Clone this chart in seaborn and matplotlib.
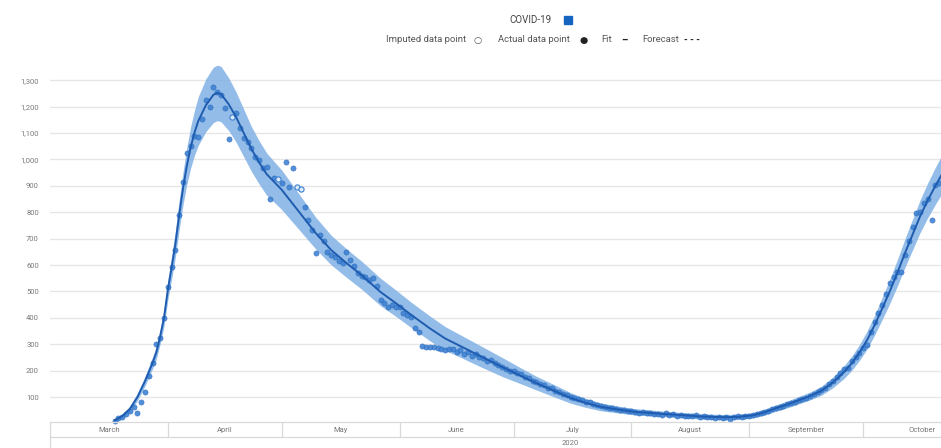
import numpy as np
import pandas as pd
import matplotlib
matplotlib.use("Agg")
import matplotlib.pyplot as plt
import seaborn as sns

sns.set_style("whitegrid")
plt.rcParams["font.family"] = ["Roboto", "DejaVu Sans"]

# fitted curve with its uncertainty band (half width)
fit_dates = [
    "2020-03-18", "2020-03-20", "2020-03-22", "2020-03-24", "2020-03-26", "2020-03-28",
    "2020-03-29", "2020-03-30", "2020-03-31", "2020-04-01", "2020-04-02", "2020-04-03",
    "2020-04-04", "2020-04-05", "2020-04-06", "2020-04-07", "2020-04-08", "2020-04-09",
    "2020-04-11", "2020-04-13", "2020-04-14", "2020-04-15", "2020-04-17", "2020-04-19",
    "2020-04-21", "2020-04-23", "2020-04-25", "2020-04-27", "2020-04-29", "2020-05-01",
    "2020-05-04", "2020-05-07", "2020-05-10", "2020-05-14", "2020-05-18", "2020-05-22",
    "2020-05-27", "2020-05-31", "2020-06-04", "2020-06-09", "2020-06-13", "2020-06-18",
    "2020-06-22", "2020-06-28", "2020-07-03", "2020-07-07", "2020-07-12", "2020-07-16",
    "2020-07-20", "2020-07-24", "2020-07-29", "2020-08-02", "2020-08-07", "2020-08-11",
    "2020-08-16", "2020-08-20", "2020-08-25", "2020-08-29", "2020-09-02", "2020-09-05",
    "2020-09-08", "2020-09-11", "2020-09-14", "2020-09-17", "2020-09-20", "2020-09-23",
    "2020-09-26", "2020-09-28", "2020-09-30", "2020-10-02", "2020-10-04", "2020-10-06",
    "2020-10-08", "2020-10-10", "2020-10-12", "2020-10-14", "2020-10-16", "2020-10-18",
    "2020-10-20", "2020-10-22",
]
fit_values = [
    12, 28, 55, 100, 160, 230,
    270, 330, 400, 505, 590, 680,
    790, 890, 975, 1045, 1100, 1145,
    1205, 1245, 1252, 1248, 1210, 1160,
    1100, 1040, 990, 945, 915, 885,
    830, 775, 720, 657, 608, 562,
    498, 456, 412, 360, 322, 286,
    257, 214, 180, 153, 122, 97,
    78, 63, 52, 44, 39, 35,
    30, 26, 24, 25, 31, 42,
    58, 72, 88, 104, 124, 155,
    195, 228, 268, 315, 372, 435,
    500, 570, 645, 715, 785, 845,
    900, 950,
]
band_half = [
    6, 8, 10, 14, 18, 22,
    25, 28, 32, 38, 44, 50,
    56, 62, 70, 78, 85, 92,
    100, 105, 105, 105, 100, 95,
    90, 85, 82, 80, 77, 75,
    70, 65, 60, 56, 54, 53,
    52, 50, 48, 47, 45, 42,
    40, 36, 30, 26, 23, 20,
    17, 15, 13, 12, 11, 10,
    10, 10, 10, 10, 10, 11,
    12, 13, 14, 15, 17, 20,
    24, 27, 30, 34, 38, 42,
    46, 50, 54, 58, 62, 66,
    70, 74,
]

# daily actual data points (NaN where the day is imputed)
actual_mar = [10, 22, 25, 35, 48, 62, 40, 80, 118, 180, 230, 300, 325, 400]  # from Mar 18
actual_apr = [517, 593, 657, 790, 915, 1024, 1051, 1090, 1085, 1153, 1225, 1200, 1275, 1255, 1244,
              1195, 1077, np.nan, 1175, 1119, 1081, 1066, 1043, 1009, 998, 967, 971, 850, 930, np.nan]
actual_may = [911, 990, 896, 967, np.nan, np.nan, 820, 770, 733, 646, 714, 690, 650, 638, 630, 615,
              608, 650, 620, 595, 570, 560, 556, 543, 550, 520, 467, 456, 442, 450, 442]
actual_jun = [442, 418, 410, 403, 362, 347, 292, 290, 288, 290, 287, 282, 280, 283, 284, 270, 280,
              262, 270, 255, 262, 250, 248, 236, 240, 228, 222, 215, 208, 200]
actual_jul = [198, 190, 186, 176, 172, 160, 158, 149, 146, 136, 133, 124, 121, 111, 109, 99, 97, 91,
              89, 82, 80, 74, 71, 65, 63, 60, 58, 54, 53, 50, 48]
actual_aug = [46, 44, 40, 42, 38, 40, 35, 37, 34, 38, 33, 36, 30, 34, 28, 30, 27, 31, 26, 28, 24, 25,
              22, 26, 20, 26, 18, 25, 27, 24, 28]
actual_sep = [29, 32, 35, 38, 42, 48, 55, 58, 62, 66, 72, 78, 82, 88, 92, 98, 106, 112, 118, 125,
              135, 148, 160, 175, 190, 205, 212, 235, 250, 268]
actual_oct = [285, 297, 346, 385, 420, 449, 490, 532, 555, 574, 574, 640, 690, 744, 797, 801, 835,
              850, 770, 903, 910]

imputed_dates = ["2020-04-18", "2020-04-30", "2020-05-05", "2020-05-06"]
imputed_values = [1160, 925, 895, 888]

months = ["March", "April", "May", "June", "July", "August", "September", "October"]
y_ticks = [100, 200, 300, 400, 500, 600, 700, 800, 900, 1000, 1100, 1200, 1300]

fit_df = pd.DataFrame({"date": pd.to_datetime(fit_dates), "fit": fit_values, "half": band_half})

parts = [("2020-03-18", actual_mar), ("2020-04-01", actual_apr), ("2020-05-01", actual_may),
         ("2020-06-01", actual_jun), ("2020-07-01", actual_jul), ("2020-08-01", actual_aug),
         ("2020-09-01", actual_sep), ("2020-10-01", actual_oct)]
actual_df = pd.concat([
    pd.DataFrame({"date": pd.date_range(start, periods=len(vals), freq="D"), "value": vals})
    for start, vals in parts
]).dropna()
imputed_df = pd.DataFrame({"date": pd.to_datetime(imputed_dates), "value": imputed_values})

x_left = pd.Timestamp("2020-03-01")
x_right = pd.Timestamp("2020-10-21 12:00")

W, H = 941, 448
fig = plt.figure(figsize=(W / 100, H / 100), dpi=100)
ax = fig.add_axes([50 / W, (H - 423.5) / H, 891 / W, (423.5 - 61.8) / H])

ax.fill_between(fit_df["date"], fit_df["fit"] - fit_df["half"], fit_df["fit"] + fit_df["half"],
                color="#7cafe4", alpha=0.82, lw=0, zorder=2)
sns.scatterplot(data=actual_df, x="date", y="value", ax=ax, s=14, color="#3d80d2",
                edgecolor="#2a6bbd", linewidth=0.4, alpha=0.88, zorder=3)
sns.scatterplot(data=imputed_df, x="date", y="value", ax=ax, s=14, color="#dce9f7",
                edgecolor="#3c7fd1", linewidth=0.8, zorder=3)
sns.lineplot(data=fit_df, x="date", y="fit", ax=ax, color="#1f5cb0", lw=1.4, zorder=4)

ax.set_xlim(x_left, x_right)
ax.set_ylim(0, 1370)
ax.set_yticks(y_ticks)
ax.set_yticklabels([f"{v:,}" for v in y_ticks])
ax.set_xticks([])
ax.set_xlabel("")
ax.set_ylabel("")
ax.grid(axis="x", visible=False)
ax.grid(axis="y", color="#e6e6e6", lw=1)
ax.tick_params(axis="y", length=0, pad=8, labelsize=5.5, labelcolor="#7a7a7a")
for s in ax.spines.values():
    s.set_visible(False)

# month / year axis box underneath
bx = fig.add_axes([50 / W, 0, 891 / W, (H - 422) / H])
bx.set_xlim(x_left, x_right)
bx.set_ylim(0, 1)
bx.axis("off")
mid = (448 - 437) / 26
line_kw = dict(color="#d9d9d9", lw=0.9, clip_on=False)
bx.axhline(1, **line_kw)
bx.axhline(mid, **line_kw)
bx.plot([x_left, x_left], [0, 1], **line_kw)
starts = pd.date_range("2020-03-01", "2020-11-01", freq="MS")
for i, m in enumerate(months):
    s0, s1 = starts[i], starts[i + 1]
    if i > 0:
        bx.plot([s0, s0], [mid, 1], **line_kw)
    bx.text(s0 + (s1 - s0) / 2, (448 - 430) / 26, m, ha="center", va="center",
            fontsize=5.5, color="#777777")
bx.text(pd.Timestamp("2020-07-16"), (448 - 443) / 26, "2020", ha="center", va="center",
        fontsize=5.5, color="#777777")

# legend header
def fx(px):
    return px / W

def fy(py):
    return 1 - py / H

fig.text(fx(530), fy(20), "COVID-19", ha="center", va="center", fontsize=7, color="#444444")
fig.patches.append(plt.Rectangle((fx(564), fy(24)), 8 / W, 8 / H, transform=fig.transFigure,
                                 color="#1565c0", figure=fig))
leg_kw = dict(va="center", fontsize=6.8, color="#555555")
fig.text(fx(386), fy(40), "Imputed data point", ha="left", **leg_kw)
fig.text(fx(478), fy(40), "○", ha="center", **leg_kw)
fig.text(fx(498), fy(40), "Actual data point", ha="left", **leg_kw)
fig.text(fx(584), fy(40), "●", ha="center", va="center", fontsize=6.8, color="#222222")
fig.text(fx(601), fy(40), "Fit", ha="left", **leg_kw)
fig.text(fx(624), fy(40), "–", ha="center", va="center", fontsize=7, color="#222222",
         fontweight="bold")
fig.text(fx(642), fy(40), "Forecast", ha="left", **leg_kw)
fig.text(fx(692), fy(40), "- - -", ha="center", va="center", fontsize=6.8, color="#222222",
         fontweight="bold")

fig.savefig("out.png", dpi=100)
